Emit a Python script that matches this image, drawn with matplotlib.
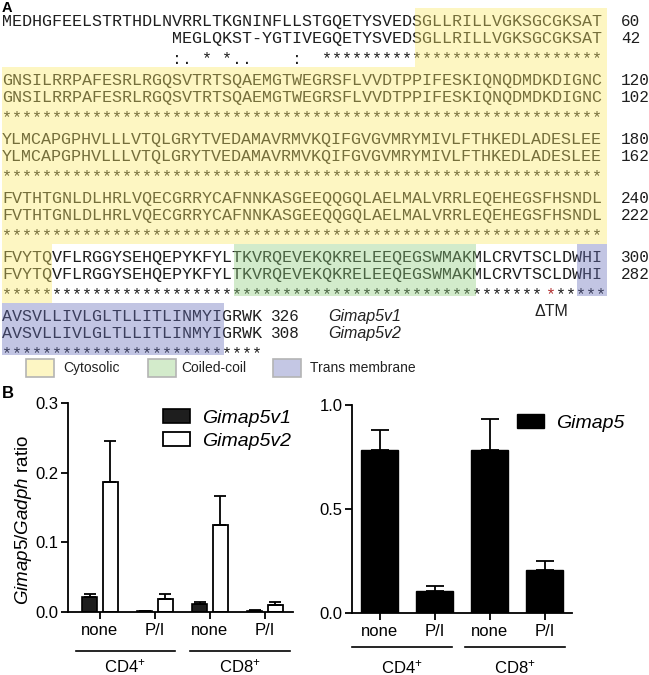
import numpy as np
import matplotlib
matplotlib.use('Agg')
import matplotlib.pyplot as plt
from matplotlib.patches import Rectangle

plt.rcParams['font.family'] = ['Liberation Sans', 'DejaVu Sans']
plt.rcParams['mathtext.fontset'] = 'custom'
plt.rcParams['mathtext.rm'] = 'Liberation Sans'
plt.rcParams['mathtext.it'] = 'Liberation Sans:italic'
plt.rcParams['mathtext.bf'] = 'Liberation Sans:bold'

# --- panel A: alignment data ---
seq_v1 = [
    'MEDHGFEELSTRTHDLNVRRLTKGNINFLLSTGQETYSVEDSGLLRILLVGKSGCGKSAT',
    'GNSILRRPAFESRLRGQSVTRTSQAEMGTWEGRSFLVVDTPPIFESKIQNQDMDKDIGNC',
    'YLMCAPGPHVLLLVTQLGRYTVEDAMAVRMVKQIFGVGVMRYMIVLFTHKEDLADESLEE',
    'FVTHTGNLDLHRLVQECGRRYCAFNNKASGEEQQGQLAELMALVRRLEQEHEGSFHSNDL',
    'FVYTQVFLRGGYSEHQEPYKFYLTKVRQEVEKQKRELEEQEGSWMAKMLCRVTSCLDWHI',
    'AVSVLLIVLGLTLLITLINMYIGRWK',
]
seq_v2 = [
    ' ' * 17 + 'MEGLQKST-YGTIVEGQETYSVEDSGLLRILLVGKSGCGKSAT',
    'GNSILRRPAFESRLRGQSVTRTSQAEMGTWEGRSFLVVDTPPIFESKIQNQDMDKDIGNC',
    'YLMCAPGPHVLLLVTQLGRYTVEDAMAVRMVKQIFGVGVMRYMIVLFTHKEDLADESLEE',
    'FVTHTGNLDLHRLVQECGRRYCAFNNKASGEEQQGQLAELMALVRRLEQEHEGSFHSNDL',
    'FVYTQVFLRGGYSEHQEPYKFYLTKVRQEVEKQKRELEEQEGSWMAKMLCRVTSCLDWHI',
    'AVSVLLIVLGLTLLITLINMYIGRWK',
]
conservation = [
    ' ' * 17 + ':. * *..    :  ' + '*' * 28,
    '*' * 60,
    '*' * 60,
    '*' * 60,
    '*' * 60,
    '*' * 26,
]
num_v1 = [60, 120, 180, 240, 300, 326]
num_v2 = [42, 102, 162, 222, 282, 308]
# (block, first column, last column, domain)
domains = [
    (0, 42, 60, 'Cytosolic'), (1, 1, 60, 'Cytosolic'), (2, 1, 60, 'Cytosolic'),
    (3, 1, 60, 'Cytosolic'), (4, 1, 5, 'Cytosolic'),
    (4, 24, 47, 'Coiled-coil'),
    (4, 58, 60, 'Trans membrane'), (5, 1, 22, 'Trans membrane'),
]
dtm_block, dtm_col = 4, 55
domain_names = ['Cytosolic', 'Coiled-coil', 'Trans membrane']
domain_bg = {'Cytosolic': '#fdf6c4', 'Coiled-coil': '#d3ebcb', 'Trans membrane': '#c4c7e4'}
domain_tint = {'Cytosolic': '#fae968', 'Coiled-coil': '#8fcd7d', 'Trans membrane': '#6870bb'}

# --- panel B data ---
groups = ['CD4$^{+}$', 'CD8$^{+}$']
conds = ['none', 'P/I', 'none', 'P/I']
v1 = [0.022, 0.001, 0.011, 0.002]
v1_err = [0.004, 0.0, 0.003, 0.001]
v2 = [0.186, 0.018, 0.125, 0.010]
v2_err = [0.060, 0.008, 0.041, 0.005]
gimap5 = [0.785, 0.108, 0.785, 0.205]
gimap5_err = [0.094, 0.020, 0.150, 0.043]

W, H = 649, 675
fig = plt.figure(figsize=(W / 100, H / 100), dpi=100)

# ---------- panel A ----------
ax_a = fig.add_axes([0, 0, 1, 1])
ax_a.set_xlim(0, W)
ax_a.set_ylim(H, 0)
ax_a.axis('off')

x0 = 2.0       # left edge of column 1
cw = 10.08     # character width (px)
y0 = 26.0      # baseline of first row
dy = 17.3      # row spacing
per = 59.0     # block spacing
mono = dict(family='Liberation Mono', fontsize=12.1, va='baseline', ha='left')
ink = '#1e1e1e'

def base(k, r):
    return y0 + per * k + dy * r

for k in range(len(seq_v1)):
    ax_a.text(x0, base(k, 0), seq_v1[k], color=ink, **mono)
    ax_a.text(x0, base(k, 1), seq_v2[k], color=ink, **mono)
    cons = conservation[k]
    yc = base(k, 2) + 3
    if k == dtm_block:
        # split the row so the Delta-TM position can be coloured red
        ax_a.text(x0, yc, cons[:dtm_col - 1], color=ink, **mono)
        ax_a.text(x0 + (dtm_col - 1) * cw, yc, cons[dtm_col - 1], color='#b03030', **mono)
        ax_a.text(x0 + dtm_col * cw, yc, cons[dtm_col:], color=ink, **mono)
    else:
        ax_a.text(x0, yc, cons, color=ink, **mono)
    xn = x0 + 61.4 * cw if k < 5 else x0 + 26.7 * cw
    ax_a.text(xn, base(k, 0), str(num_v1[k]), color=ink,
              family='Liberation Mono', fontsize=11.5, va='baseline')
    ax_a.text(xn, base(k, 1), str(num_v2[k]), color=ink,
              family='Liberation Mono', fontsize=11.5, va='baseline')

for k, c0, c1, name in domains:
    top = base(k, 0) - 18
    h = per if name == 'Cytosolic' else base(k, 2) - 1 - top
    ax_a.add_patch(Rectangle((x0 + (c0 - 1) * cw, top), (c1 - c0 + 1) * cw, h,
                             facecolor=domain_tint[name], alpha=0.4, lw=0, zorder=3))

ax_a.text(x0 + 54.5 * cw, base(4, 2) + 19, '\u0394TM', fontsize=11.5, ha='center',
          va='baseline', color='#222222')
ax_a.text(328, base(5, 0), 'Gimap5v1', style='italic', fontsize=11.5, va='baseline',
          color='#222222')
ax_a.text(328, base(5, 1), 'Gimap5v2', style='italic', fontsize=11.5, va='baseline',
          color='#222222')

leg_y = 368
for name, bx in zip(domain_names, [26, 148, 273]):
    ax_a.add_patch(Rectangle((bx, leg_y - 9), 28, 18, facecolor=domain_bg[name],
                             edgecolor='#b4b4b4', lw=1.2))
    ax_a.text(bx + 37 if name != 'Coiled-coil' else bx + 33, leg_y, name,
              fontsize=10, va='center', color='#222222')

ax_a.text(2, 0.5, 'A', fontsize=10.5, fontweight='bold', va='top')
ax_a.text(2, 394, 'B', fontsize=12, fontweight='bold', va='center')

# ---------- panel B ----------
def style_axis(ax):
    for s in ['top', 'right']:
        ax.spines[s].set_visible(False)
    for s in ['left', 'bottom']:
        ax.spines[s].set_linewidth(1.3)
    ax.tick_params(width=1.3, length=5, labelsize=12, pad=2)
    ax.tick_params(axis='x', pad=3)
    ax.set_facecolor('none')

def group_lines(ax, spans, ypos, ylab):
    for (a, b), g in zip(spans, groups):
        ax.plot([a, b], [ypos, ypos], color='black', lw=1.2,
                transform=ax.get_xaxis_transform(), clip_on=False)
        ax.text((a + b) / 2, ylab, g, ha='center', va='center', fontsize=12,
                transform=ax.get_xaxis_transform())

x = np.arange(len(conds))

ax_l = fig.add_axes([68 / W, 1 - 612 / H, 225 / W, 209 / H])
ax_l.bar(x - 0.185, v1, 0.27, yerr=[np.zeros(4), v1_err], color='#1e1e1e',
         edgecolor='black', lw=1.2, capsize=4, label='Gimap5v1',
         error_kw=dict(elinewidth=1.3, capthick=1.3))
ax_l.bar(x + 0.185, v2, 0.27, yerr=[np.zeros(4), v2_err], color='white',
         edgecolor='black', lw=1.3, capsize=4, label='Gimap5v2',
         error_kw=dict(elinewidth=1.3, capthick=1.3))
ax_l.set_xlim(-0.58, 3.51)
ax_l.set_ylim(0, 0.3)
ax_l.set_yticks([0, 0.1, 0.2, 0.3], ['0.0', '0.1', '0.2', '0.3'])
ax_l.set_xticks(x, conds)
style_axis(ax_l)
ax_l.set_ylabel('$\\mathit{Gimap5/Gadph}$ ratio', fontsize=13.5)
ax_l.yaxis.set_label_coords(-0.15, 0.44)
group_lines(ax_l, [(-0.44, 1.36), (1.64, 3.45)], -0.185, -0.26)
ax_l.legend(loc='upper left', bbox_to_anchor=(163 / W, 1 - 409 / H),
            bbox_transform=fig.transFigure, frameon=False, borderpad=0,
            borderaxespad=0, handlelength=1.4, handleheight=0.7,
            handletextpad=0.6, labelspacing=0.3,
            prop=dict(family='Liberation Sans', style='italic', size=14))

ax_r = fig.add_axes([352 / W, 1 - 613 / H, 220 / W, 208 / H])
ax_r.bar(x, gimap5, 0.67, yerr=[np.zeros(4), gimap5_err], color='black',
         edgecolor='black', capsize=6.5, label='Gimap5',
         error_kw=dict(elinewidth=1.3, capthick=1.3))
ax_r.set_xlim(-0.5, 3.5)
ax_r.set_ylim(0, 1.0)
ax_r.set_yticks([0, 0.5, 1.0], ['0.0', '0.5', '1.0'])
ax_r.set_xticks(x, conds)
style_axis(ax_r)
group_lines(ax_r, [(-0.5, 1.32), (1.55, 3.37)], -0.165, -0.26)
ax_r.legend(loc='upper left', bbox_to_anchor=(517 / W, 1 - 414 / H),
            bbox_transform=fig.transFigure, frameon=False, borderpad=0,
            borderaxespad=0, handlelength=1.4, handleheight=0.7,
            handletextpad=0.6,
            prop=dict(family='Liberation Sans', style='italic', size=14))

fig.savefig('out.png', dpi=100)
